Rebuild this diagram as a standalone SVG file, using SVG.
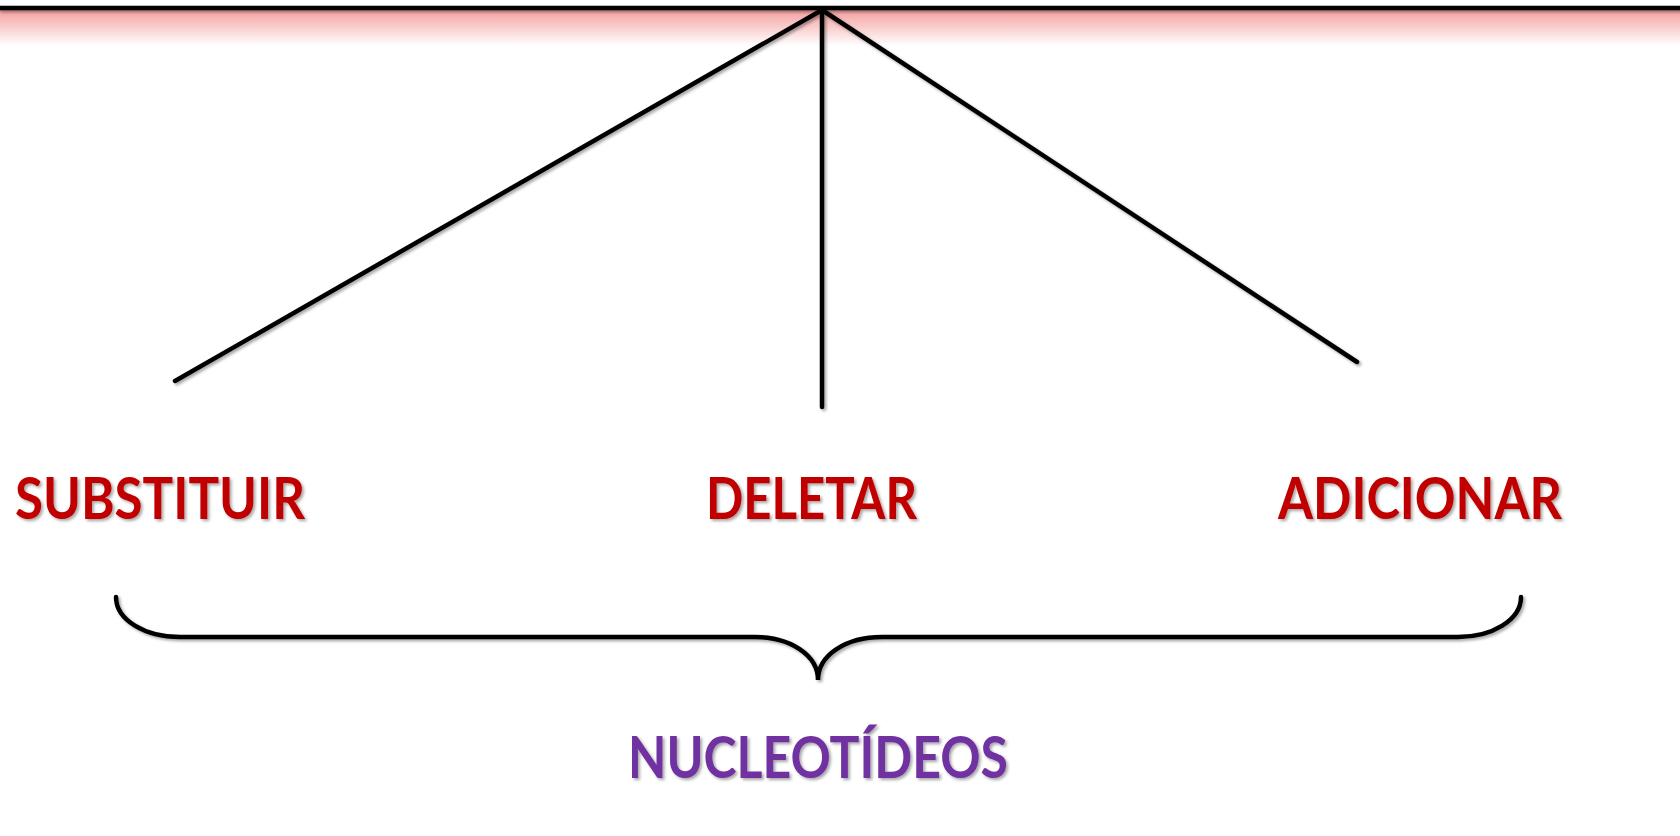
<svg xmlns="http://www.w3.org/2000/svg" width="1680" height="836" viewBox="0 0 1680 836">
<defs>
<linearGradient id="pink" x1="0" y1="0" x2="0" y2="1">
<stop offset="0" stop-color="#F4A0A0"/>
<stop offset="1" stop-color="#FFFFFF"/>
</linearGradient>
<filter id="sh" x="-10%" y="-10%" width="120%" height="130%">
<feDropShadow dx="2" dy="2" stdDeviation="1.5" flood-color="#000" flood-opacity="0.35"/>
</filter>
</defs>
<style>
.ln{stroke:#000;stroke-width:4.5;fill:none;stroke-linecap:round}
.lbl{font-family:Lato,"Open Sans","Liberation Sans",sans-serif;font-weight:bold;font-size:57px;fill:#C00000}
.pur{fill:#7030A0}
</style>
<rect x="0" y="10" width="1680" height="36" fill="url(#pink)"/>
<g id="connectors" filter="url(#sh)">
<line class="ln" x1="0" y1="8" x2="1680" y2="8"/>
<line class="ln" x1="822" y1="10" x2="175" y2="381"/>
<line class="ln" x1="822" y1="10" x2="822" y2="407"/>
<line class="ln" x1="822" y1="10" x2="1357" y2="362"/>
<path class="ln" d="M116,597 C116,620 145,637 180,637 L755,637 C790,637 818,655 818,680 C818,655 846,637 882,637 L1458,637 C1492,637 1521,620 1521,597"/>
</g>
<g id="substituir" filter="url(#sh)"><text class="lbl" x="15" y="519" textLength="290" lengthAdjust="spacingAndGlyphs">SUBSTITUIR</text></g>
<g id="deletar" filter="url(#sh)"><text class="lbl" x="706" y="519" textLength="211" lengthAdjust="spacingAndGlyphs">DELETAR</text></g>
<g id="adicionar" filter="url(#sh)"><text class="lbl" x="1278" y="519" textLength="284" lengthAdjust="spacingAndGlyphs">ADICIONAR</text></g>
<g id="nucleotideos" filter="url(#sh)"><text class="lbl pur" x="628" y="778" textLength="380" lengthAdjust="spacingAndGlyphs">NUCLEOTÍDEOS</text></g>
</svg>
